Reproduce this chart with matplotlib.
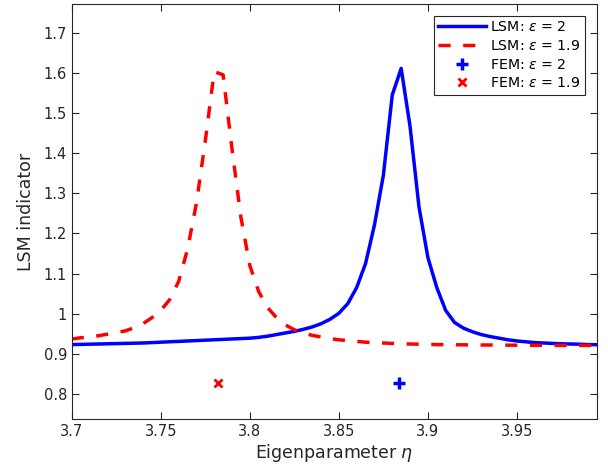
import matplotlib.pyplot as plt
from matplotlib.ticker import FormatStrFormatter

# eigenparameter grid (step 0.005)
eta = [3.700, 3.705, 3.710, 3.715, 3.720, 3.725, 3.730, 3.735, 3.740, 3.745,
       3.750, 3.755, 3.760, 3.765, 3.770, 3.775, 3.780, 3.785, 3.790, 3.795,
       3.800, 3.805, 3.810, 3.815, 3.820, 3.825, 3.830, 3.835, 3.840, 3.845,
       3.850, 3.855, 3.860, 3.865, 3.870, 3.875, 3.880, 3.885, 3.890, 3.895,
       3.900, 3.905, 3.910, 3.915, 3.920, 3.925, 3.930, 3.935, 3.940, 3.945,
       3.950, 3.955, 3.960, 3.965, 3.970, 3.975, 3.980, 3.985, 3.990, 3.995]

lsm_eps2 = [0.923, 0.9235, 0.924, 0.9245, 0.925, 0.9255, 0.926, 0.9265, 0.927, 0.928,
            0.929, 0.930, 0.931, 0.932, 0.933, 0.934, 0.935, 0.936, 0.937, 0.938,
            0.939, 0.941, 0.944, 0.948, 0.952, 0.956, 0.961, 0.967, 0.975, 0.986,
            1.001, 1.025, 1.065, 1.125, 1.221, 1.345, 1.545, 1.611, 1.466, 1.266,
            1.140, 1.065, 1.008, 0.978, 0.964, 0.955, 0.948, 0.943, 0.939, 0.935,
            0.932, 0.930, 0.928, 0.927, 0.926, 0.925, 0.9245, 0.924, 0.923, 0.9228]

lsm_eps19 = [0.937, 0.940, 0.942, 0.945, 0.949, 0.953, 0.957, 0.965, 0.975, 0.990,
             1.008, 1.035, 1.080, 1.160, 1.275, 1.430, 1.603, 1.595, 1.410, 1.240,
             1.120, 1.055, 1.015, 0.990, 0.972, 0.960, 0.952, 0.946, 0.942, 0.938,
             0.935, 0.933, 0.931, 0.929, 0.928, 0.927, 0.926, 0.925, 0.9245, 0.924,
             0.9235, 0.923, 0.923, 0.9225, 0.9225, 0.922, 0.922, 0.922, 0.9218, 0.9216,
             0.9215, 0.9214, 0.9213, 0.9212, 0.9211, 0.921, 0.921, 0.921, 0.921, 0.921]

fem_eta = [3.884, 3.782]
fem_val = [0.828, 0.828]

ax_col = '#262626'
plt.rcParams['font.family'] = 'DejaVu Sans'

fig = plt.figure(figsize=(6.08, 4.72), dpi=100)
ax = fig.add_axes([0.118, 0.1123, 0.864, 0.8792])

ax.plot(eta, lsm_eps2, color='#0000ff', lw=2.5, label=r'LSM: $\varepsilon$ = 2')
ax.plot(eta, lsm_eps19, color='#ff0000', lw=2.5, linestyle=(0, (3.5, 3.6)),
        label=r'LSM: $\varepsilon$ = 1.9')
ax.plot(fem_eta[0], fem_val[0], '+', color='#0000ff', ms=8, mew=2.5,
        label=r'FEM: $\varepsilon$ = 2')
ax.plot(fem_eta[1], fem_val[1], 'x', color='#ff0000', ms=5.5, mew=2.0,
        label=r'FEM: $\varepsilon$ = 1.9')

ax.set_xlim(3.7, 3.995)
ax.set_ylim(0.7377, 1.7714)
ax.set_xticks([3.7, 3.75, 3.8, 3.85, 3.9, 3.95])
ax.set_yticks([0.8, 0.9, 1.0, 1.1, 1.2, 1.3, 1.4, 1.5, 1.6, 1.7])
ax.xaxis.set_major_formatter(FormatStrFormatter('%g'))
ax.yaxis.set_major_formatter(FormatStrFormatter('%g'))
ax.tick_params(direction='in', top=True, right=True, length=5, width=0.8,
               colors=ax_col, labelsize=10.5, labelcolor=ax_col)
for s in ax.spines.values():
    s.set_color(ax_col)
    s.set_linewidth(0.8)

ax.set_xlabel(r'Eigenparameter $\eta$', fontsize=12.5, color=ax_col, labelpad=2)
ax.set_ylabel('LSM indicator', fontsize=12.5, color=ax_col, labelpad=6)

leg = ax.legend(loc='upper right', fontsize=10.2, handlelength=3.4,
                fancybox=False, framealpha=1, borderaxespad=0.85,
                handletextpad=0.3, labelspacing=0.33, borderpad=0.3)
leg.get_frame().set_edgecolor(ax_col)
leg.get_frame().set_linewidth(0.8)

fig.savefig('out.png', dpi=100)
